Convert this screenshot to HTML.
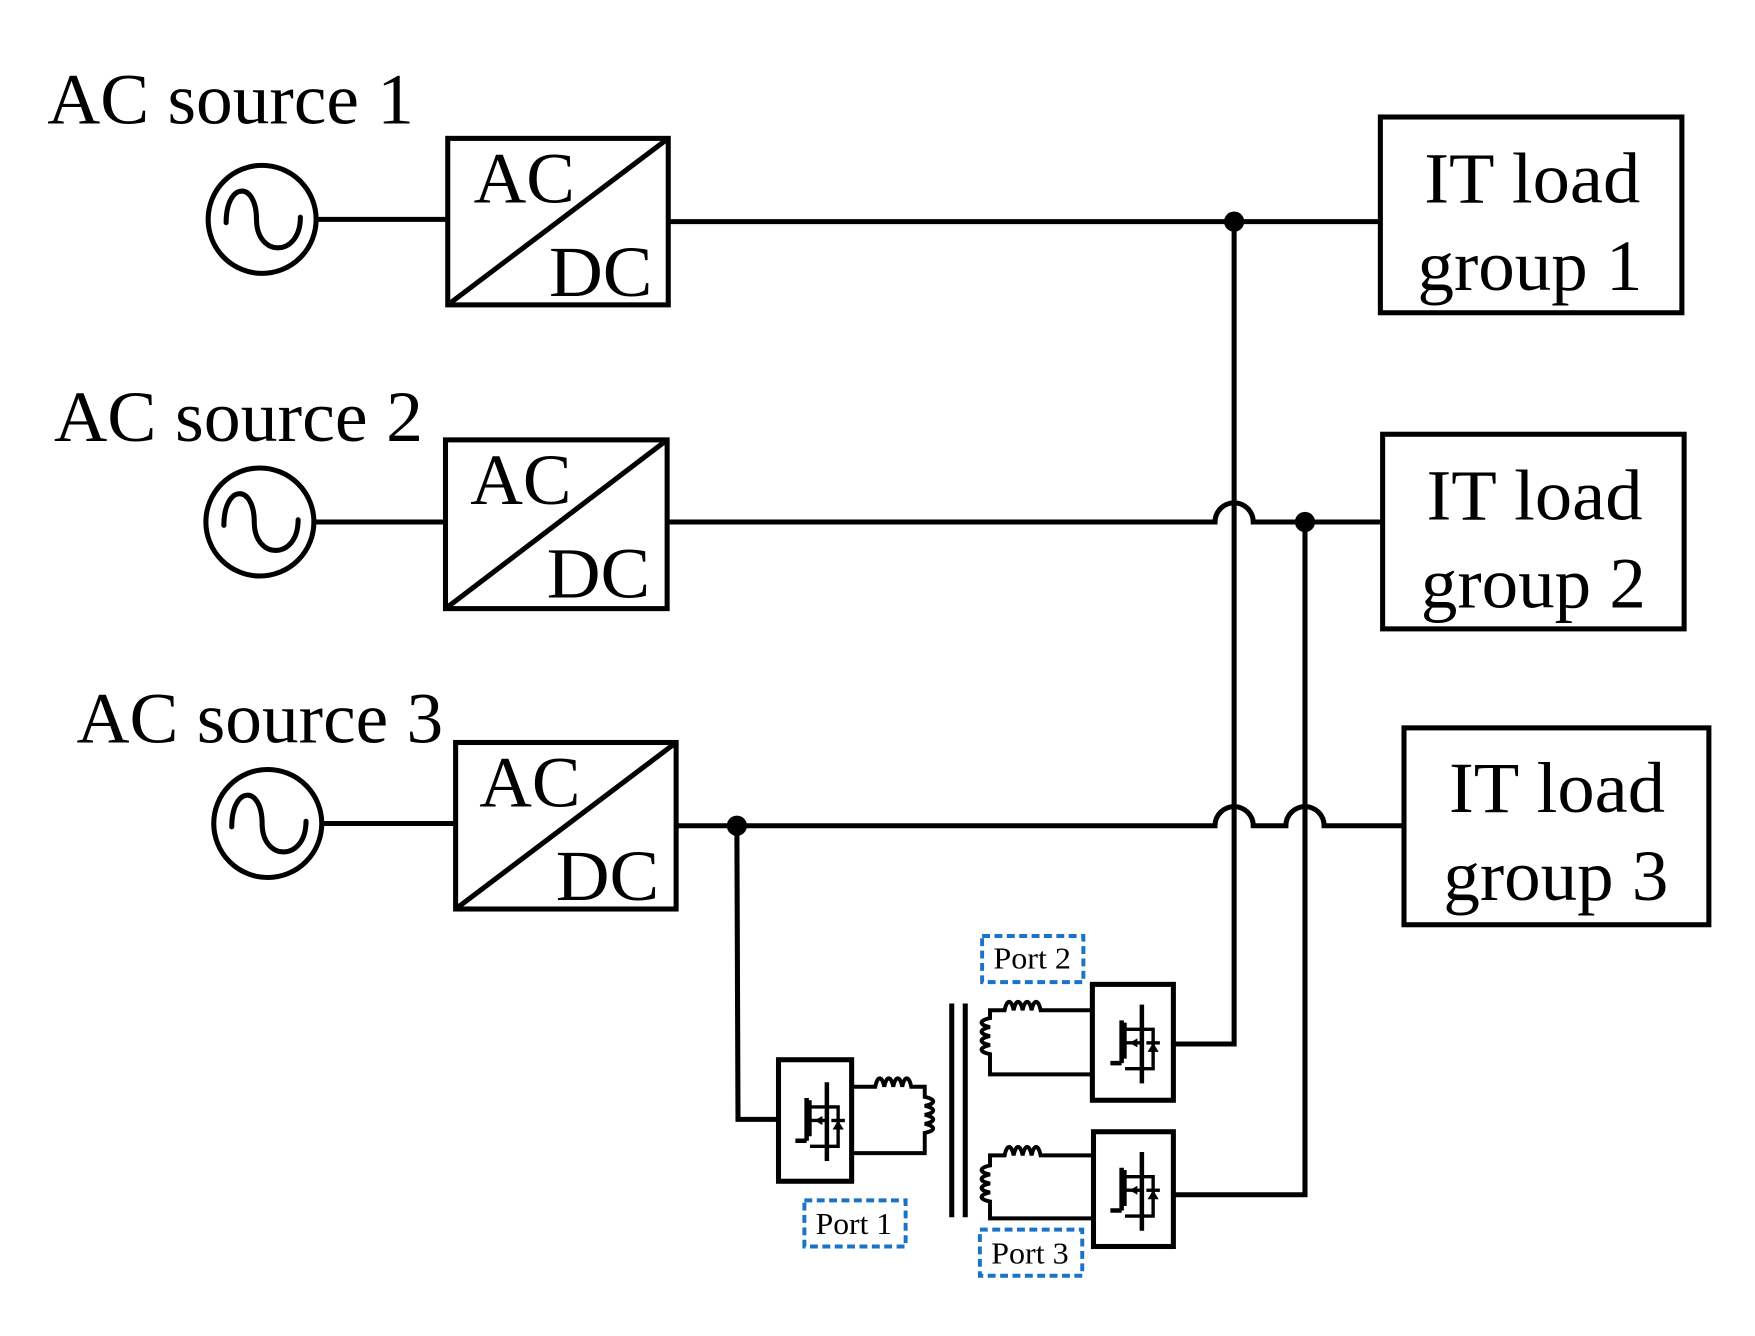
<!DOCTYPE html>
<html><head><meta charset="utf-8"><style>html,body{margin:0;padding:0;background:#fff}svg{display:block}</style></head><body>
<svg width="1755" height="1336" viewBox="0 0 1560 1187.56" xmlns="http://www.w3.org/2000/svg">
<defs>
<g id="src"><circle cx="0" cy="0" r="48" fill="none" stroke="#000" stroke-width="4.5"/>
<path d="M-32,3 C-32,-34 -5,-34 -5,0 C-5,34 34,34 34,-2" fill="none" stroke="#000" stroke-width="4.5" stroke-linecap="round"/></g>
<g id="mos">
<line x1="40" y1="18" x2="40" y2="88" stroke="#000" stroke-width="4"/>
<line x1="22" y1="32" x2="22" y2="70" stroke="#000" stroke-width="4"/>
<line x1="12" y1="70" x2="22" y2="70" stroke="#000" stroke-width="4"/>
<polyline points="25,34 25,66" stroke="#000" stroke-width="3" fill="none"/>
<polyline points="25,40 50,40 50,75 25,75" fill="none" stroke="#000" stroke-width="3"/>
<polyline points="25,52 40,52" stroke="#000" stroke-width="3" fill="none"/>
<polygon points="29,52 36,48 36,56" fill="#000"/>
<polygon points="45,60 55,60 50,52" fill="#000"/>
<line x1="44" y1="52" x2="56" y2="52" stroke="#000" stroke-width="3"/>
</g>
</defs>
<g font-family="'Liberation Serif', serif" fill="#000">
<text x="42" y="110" font-size="64" textLength="326" lengthAdjust="spacingAndGlyphs">AC source 1</text>
<text x="48" y="392" font-size="64" textLength="328" lengthAdjust="spacingAndGlyphs">AC source 2</text>
<text x="68" y="660" font-size="64" textLength="326" lengthAdjust="spacingAndGlyphs">AC source 3</text>
<text x="421" y="180" font-size="64" textLength="90" lengthAdjust="spacingAndGlyphs">AC</text>
<text x="488" y="263" font-size="64" textLength="92" lengthAdjust="spacingAndGlyphs">DC</text>
<text x="418" y="448" font-size="64" textLength="90" lengthAdjust="spacingAndGlyphs">AC</text>
<text x="486" y="531" font-size="64" textLength="92" lengthAdjust="spacingAndGlyphs">DC</text>
<text x="426" y="717" font-size="64" textLength="90" lengthAdjust="spacingAndGlyphs">AC</text>
<text x="494" y="800" font-size="64" textLength="92" lengthAdjust="spacingAndGlyphs">DC</text>
<text x="1266" y="180" font-size="64" textLength="192" lengthAdjust="spacingAndGlyphs">IT load</text>
<text x="1260" y="258" font-size="64" textLength="200" lengthAdjust="spacingAndGlyphs">group 1</text>
<text x="1268" y="462" font-size="64" textLength="192" lengthAdjust="spacingAndGlyphs">IT load</text>
<text x="1263" y="540" font-size="64" textLength="200" lengthAdjust="spacingAndGlyphs">group 2</text>
<text x="1288" y="722" font-size="64" textLength="192" lengthAdjust="spacingAndGlyphs">IT load</text>
<text x="1283" y="800" font-size="64" textLength="200" lengthAdjust="spacingAndGlyphs">group 3</text>
<text x="883" y="861" font-size="27" textLength="69" lengthAdjust="spacingAndGlyphs">Port 2</text>
<text x="725" y="1097" font-size="27" textLength="68" lengthAdjust="spacingAndGlyphs">Port 1</text>
<text x="881" y="1123" font-size="27" textLength="69" lengthAdjust="spacingAndGlyphs">Port 3</text>
</g>
<g fill="none" stroke="#1a73c8" stroke-width="3.5" stroke-dasharray="7,4">
<rect x="873" y="832" width="90" height="41"/>
<rect x="715" y="1067" width="90" height="41"/>
<rect x="871" y="1093" width="91" height="41"/>
</g>
<use href="#src" x="233" y="195"/>
<use href="#src" x="231" y="464"/>
<use href="#src" x="238" y="732"/>
<g fill="none" stroke="#000" stroke-width="4.5">
<rect x="398" y="123" width="196" height="148"/><line x1="398" y1="271" x2="594" y2="123"/>
<rect x="396" y="391" width="197" height="150"/><line x1="396" y1="541" x2="593" y2="391"/>
<rect x="405" y="660" width="196" height="148"/><line x1="405" y1="808" x2="601" y2="660"/>
<rect x="1227" y="104" width="268" height="174"/>
<rect x="1229" y="386" width="268" height="173"/>
<rect x="1248" y="647" width="271" height="175"/>
<line x1="281" y1="195" x2="398" y2="195"/>
<line x1="279" y1="464" x2="396" y2="464"/>
<line x1="286" y1="732" x2="405" y2="732"/>
<line x1="594" y1="197" x2="1227" y2="197"/>
<path d="M593,464 H1080 A17,17 0 0 1 1114,464 H1229"/>
<path d="M601,734 H1080 A17,17 0 0 1 1114,734 H1143 A17,17 0 0 1 1177,734 H1248"/>
<polyline points="1097,197 1097,928 1043,928"/>
<polyline points="1160,464 1160,1062 1043,1062"/>
<polyline points="655,734 656,995 692,995"/>
<rect x="692" y="942" width="65" height="108"/>
<rect x="971" y="875" width="72" height="103"/>
<rect x="972" y="1006" width="71" height="102"/>
<line x1="846" y1="892" x2="846" y2="1082"/>
<line x1="858" y1="892" x2="858" y2="1082"/>
<g stroke-width="3.5">
<path d="M757,966 H778 c2,-10 6,-10 8,0 c2,-10 6,-10 8,0 c2,-10 6,-10 8,0 c2,-10 6,-10 8,0 H822 V975 c10,2 10,6 0,8 c10,2 10,6 0,8 c10,2 10,6 0,8 c10,2 10,6 0,8 V1025 H757"/>
<path d="M971,898 H925 c-2,-10 -6,-10 -8,0 c-2,-10 -6,-10 -8,0 c-2,-10 -6,-10 -8,0 c-2,-10 -6,-10 -8,0 H880 V905 c-10,2 -10,6 0,8 c-10,2 -10,6 0,8 c-10,2 -10,6 0,8 c-10,2 -10,6 0,8 V955 H971"/>
<path d="M972,1027 H925 c-2,-10 -6,-10 -8,0 c-2,-10 -6,-10 -8,0 c-2,-10 -6,-10 -8,0 c-2,-10 -6,-10 -8,0 H880 V1036 c-10,2 -10,6 0,8 c-10,2 -10,6 0,8 c-10,2 -10,6 0,8 c-10,2 -10,6 0,8 V1083 H972"/>
</g>
</g>
<circle cx="1097" cy="197" r="9"/>
<circle cx="1160" cy="464" r="9"/>
<circle cx="655" cy="734" r="9"/>
<use href="#mos" x="695" y="944"/>
<use href="#mos" x="975" y="875"/>
<use href="#mos" x="975" y="1006"/>
</svg>
</body></html>
